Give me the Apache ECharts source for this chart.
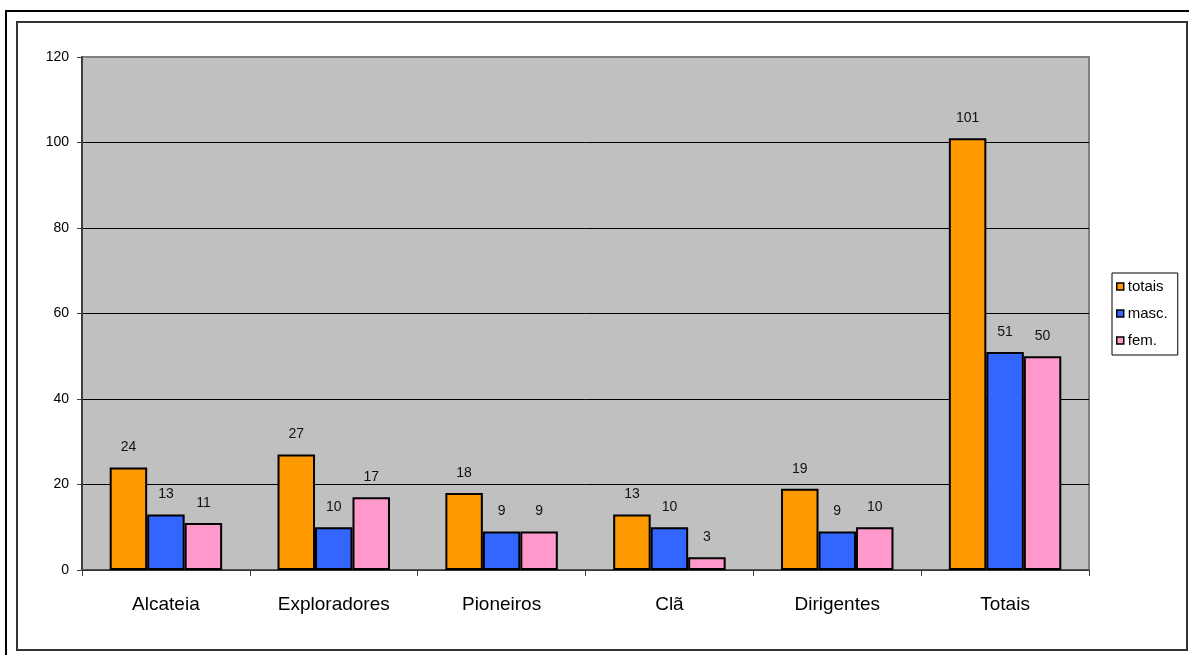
<!DOCTYPE html>
<html>
<head>
<meta charset="utf-8">
<script src="https://cdn.jsdelivr.net/npm/echarts@6/dist/echarts.min.js"></script>
<style>
html,body{margin:0;padding:0;background:#fff;}
#chart{width:1189px;height:655px;}
</style>
</head>
<body>
<div id="chart"></div>
<script>
var categories = ['Alcateia', 'Exploradores', 'Pioneiros', 'Clã', 'Dirigentes', 'Totais'];
var totais = [24, 27, 18, 13, 19, 101];
var masc = [13, 10, 9, 10, 9, 51];
var fem = [11, 17, 9, 3, 10, 50];
var seriesNames = ['totais', 'masc.', 'fem.'];
var seriesColors = ['#FF9900', '#3366FF', '#FF99CC'];
var yTicks = {min: 0, max: 120, interval: 20};

var font = '"Liberation Sans", Arial, sans-serif';
var chart = echarts.init(document.getElementById('chart'));

function makeSeries(name, data, color) {
  return {
    name: name,
    type: 'bar',
    data: data,
    barGap: '0%',
    barCategoryGap: '33%',
    itemStyle: {color: color, borderColor: '#000', borderWidth: 2},
    label: {
      show: true, position: 'top', distance: 13,
      color: '#111', fontFamily: font, fontSize: 14
    }
  };
}

chart.setOption({
  animation: false,
  backgroundColor: '#fff',
  textStyle: {fontFamily: font},
  graphic: [
    {type: 'rect', shape: {x: 6, y: 11, width: 1220, height: 700},
     style: {fill: 'none', stroke: '#000', lineWidth: 2}, silent: true},
    {type: 'rect', shape: {x: 17, y: 22, width: 1170, height: 628},
     style: {fill: 'none', stroke: '#333', lineWidth: 2}, silent: true}
  ],
  grid: {
    left: 82, right: 100, top: 57, bottom: 85,
    show: true, backgroundColor: '#C0C0C0', borderColor: '#808080', borderWidth: 2
  },
  legend: {
    orient: 'vertical',
    left: 1112, top: 273,
    padding: [6, 10, 7, 4],
    backgroundColor: '#fff',
    borderColor: '#000', borderWidth: 1,
    itemWidth: 7, itemHeight: 7, itemGap: 12,
    icon: 'rect',
    itemStyle: {borderColor: '#000', borderWidth: 1.5},
    textStyle: {fontFamily: font, fontSize: 15, color: '#000', padding: [0, 0, 0, -1]},
    data: seriesNames
  },
  xAxis: {
    type: 'category',
    data: categories,
    axisLine: {lineStyle: {color: '#404040', width: 1.5}},
    axisTick: {show: true, length: 6, lineStyle: {color: '#404040'}},
    axisLabel: {color: '#000', fontFamily: font, fontSize: 19, margin: 25}
  },
  yAxis: {
    type: 'value',
    min: yTicks.min, max: yTicks.max, interval: yTicks.interval,
    axisLine: {show: true, lineStyle: {color: '#404040', width: 2}},
    axisTick: {show: true, length: 5, lineStyle: {color: '#404040'}},
    axisLabel: {color: '#000', fontFamily: font, fontSize: 14, margin: 13},
    splitLine: {show: true, showMaxLine: false, lineStyle: {color: '#000', width: 1}}
  },
  series: [
    makeSeries(seriesNames[0], totais, seriesColors[0]),
    makeSeries(seriesNames[1], masc, seriesColors[1]),
    makeSeries(seriesNames[2], fem, seriesColors[2])
  ]
});
</script>
</body>
</html>
